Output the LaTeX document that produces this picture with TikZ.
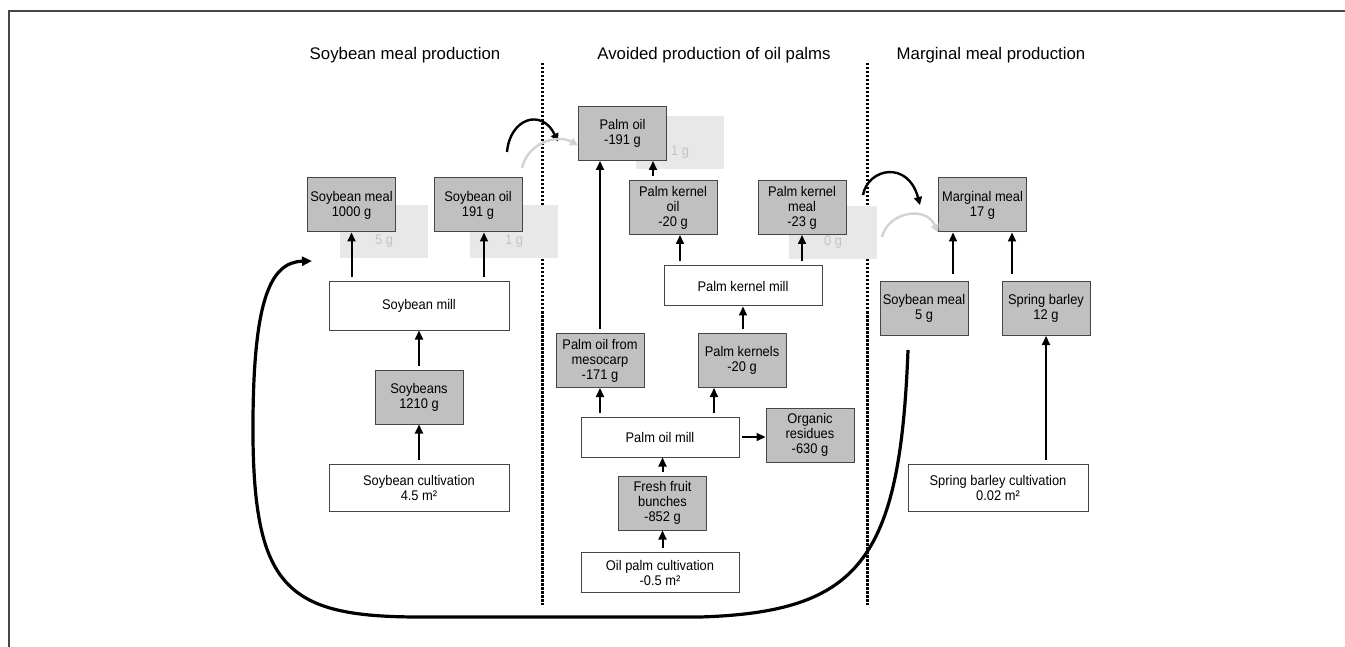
\documentclass[tikz,border=0pt]{standalone}
\usepackage{fontspec}
\setmainfont{Liberation Sans}
\newfontfamily\boxfont[FakeStretch=0.92]{Liberation Sans}
\usetikzlibrary{arrows.meta}
\definecolor{prodgray}{RGB}{192,192,192}
\definecolor{ghostgray}{RGB}{232,232,232}
\definecolor{ghosttext}{RGB}{196,196,196}
\definecolor{ghostarc}{RGB}{210,210,210}
\definecolor{edgegray}{RGB}{70,70,70}

\begin{document}
\begin{tikzpicture}[x=1pt,y=-1pt,
  proc/.style={draw=edgegray,line width=1pt,fill=white,inner sep=0pt,align=center,font=\boxfont\fontsize{14}{15}\selectfont},
  prod/.style={proc,fill=prodgray,minimum width=88pt,minimum height=54pt},
  ghost/.style={fill=ghostgray,inner sep=0pt,minimum width=88pt,minimum height=53pt},
  ghostlbl/.style={text=ghosttext,inner sep=0pt,font=\boxfont\fontsize{14}{15}\selectfont},
  header/.style={inner sep=0pt,font=\fontsize{16.8}{20}\selectfont},
  flow/.style={-{Triangle[length=9pt,width=8pt]},line width=2pt,shorten <=4pt},
  swap/.style={-{Triangle[length=8pt,width=8pt]},line width=2.4pt}]
\useasboundingbox (0,0) rectangle (1345,647);
\draw[edgegray,line width=1.5pt] (9,647) -- (9,11) -- (1345,11);
% headers and borders
\node[header] (H1) at (405,55) {Soybean meal production};
\node[header] (H2) at (714,55) {Avoided production of oil palms};
\node[header] (H3) at (991,55) {Marginal meal production};
\foreach \x in {542,867} {
  \draw[line width=3pt,dash pattern=on 2.5pt off 1.5pt] (\x,63) -- (\x,605);
}
% ghost boxes
\foreach \n/\x/\y/\t in {G1/384/231.5/5 g,G2/514/231.5/1 g,G3/680/142.5/1 g,G4/833/232.5/0 g} {
  \node[ghost] (\n) at (\x,\y) {};
  \node[ghostlbl] at ([yshift=-10pt]\n.center) {\t};
}
% soybean meal production
\node[prod] (SMeal) at (351.5,205) {Soybean meal\\1000 g};
\node[prod] (SOil) at (478,205) {Soybean oil\\191 g};
\node[proc,minimum width=180pt,minimum height=48pt] (SMill) at (419,306) {Soybean mill};
\node[prod] (SBeans) at (419,397) {Soybeans\\1210 g};
\node[proc,minimum width=180pt,minimum height=47pt] (SCult) at (419,487.5) {Soybean cultivation\\4.5 m²};
% avoided oil palm production
\node[prod] (POil) at (622.5,133.5) {Palm oil\\-191 g};
\node[prod] (PKOil) at (673,207.5) {Palm kernel\\oil\\-20 g};
\node[prod] (PKMeal) at (802,207.5) {Palm kernel\\meal\\-23 g};
\node[proc,minimum width=158pt,minimum height=40pt] (PKMill) at (743,286) {Palm kernel mill};
\node[prod] (Meso) at (600,360.5) {Palm oil from\\mesocarp\\-171 g};
\node[prod] (PKern) at (742,360.5) {Palm kernels\\-20 g};
\node[proc,minimum width=158pt,minimum height=40pt] (POMill) at (660,437) {Palm oil mill};
\node[prod] (ORes) at (810,435) {Organic\\residues\\-630 g};
\node[prod] (FFB) at (662.5,503) {Fresh fruit\\bunches\\-852 g};
\node[proc,minimum width=158pt,minimum height=40pt] (OPCult) at (660,572.5) {Oil palm cultivation\\-0.5 m²};
% marginal meal production
\node[prod] (MMeal) at (982.5,205) {Marginal meal\\17 g};
\node[prod] (SMeal5) at (924,308.5) {Soybean meal\\5 g};
\node[prod] (SBar) at (1046,308.5) {Spring barley\\12 g};
\node[proc,minimum width=180pt,minimum height=47pt] (SBCult) at (998,487.5) {Spring barley cultivation\\0.02 m²};

\foreach \i/\j in {SMill/SMeal,SBeans/SMill,SCult/SBeans,PKMill/PKMeal,PKern/PKMill,POMill/Meso,OPCult/FFB,SBCult/SBar} {
  \draw[flow] (\j.south |- \i.north) -- (\j.south);
}
\foreach \i/\j in {Meso/POil,FFB/POMill} {
  \draw[flow] (\i.north) -- (\i.north |- \j.south);
}
\draw[flow] ([xshift=6pt]SOil.south |- SMill.north) -- ([xshift=6pt]SOil.south);
\draw[flow] ([xshift=-20pt]PKOil.north) -- ([xshift=-20pt]PKOil.north |- POil.south);
\draw[flow] ([xshift=7pt]PKOil.south |- PKMill.north) -- ([xshift=7pt]PKOil.south);
\draw[flow] ([xshift=-28pt]PKern.south |- POMill.north) -- ([xshift=-28pt]PKern.south);
\draw[flow,shorten <=7pt] ([xshift=-29.5pt]MMeal.south |- SMeal5.north) -- ([xshift=-29.5pt]MMeal.south);
\draw[flow,shorten <=7pt] ([xshift=29.5pt]MMeal.south |- SBar.north) -- ([xshift=29.5pt]MMeal.south);
\draw[flow,shorten <=2pt] (POMill.east) -- (POMill.east -| ORes.west);
% swaps across the borders
\coordinate (A1) at (507,152);
\coordinate (A2) at (522,168);
\coordinate (A3) at (863,195);
\coordinate (A4) at (882,237);
\draw[swap] (A1) .. controls (510,118) and (542,108) .. ([yshift=-8pt]POil.west -| 558,0);
\draw[swap,ghostarc] (A2) .. controls (528,142) and (558,134) .. ([yshift=-12pt]POil.west);
\draw[swap] (A3) .. controls (868,168) and (908,160) .. (MMeal.west -| 920,0);
\draw[swap,ghostarc] (A4) .. controls (888,212) and (926,205) .. (MMeal.south west);
% soybean meal loop
\coordinate (L0) at (908,350);
\coordinate (L1) at (312,261);
\draw[-{Triangle[length=10pt,width=9pt]},line width=3.2pt] (L0) .. controls (900,560) and (860,612) .. (700,617)
  -- (420,617) .. controls (290,617) and (255,590) .. (253,440)
  .. controls (252,300) and (270,262) .. (L1);
\end{tikzpicture}
\end{document}
